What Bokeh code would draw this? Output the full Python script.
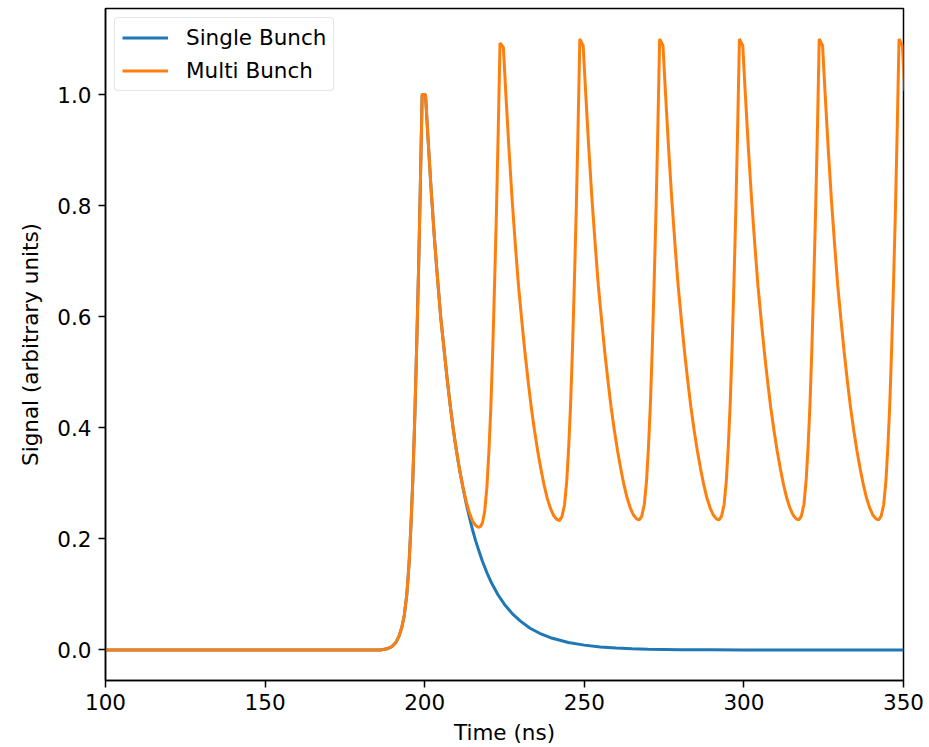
from bokeh.plotting import figure
from bokeh.models import Range1d, FixedTicker, PrintfTickFormatter
from bokeh.embed import file_html
from bokeh.resources import INLINE

# ---------------- data ----------------
x_ticks = [100, 150, 200, 250, 300, 350]
y_ticks = [0.0, 0.2, 0.4, 0.6, 0.8, 1.0]

single_label = "Single Bunch"
multi_label = "Multi Bunch"

single_t = [100, 150, 180, 186.2, 188.2, 189.7, 190.9, 191.9, 192.8, 193.6, 194.4,
            195.1, 195.7, 196.3, 196.9, 197.5, 198.1, 198.65, 199.2, 200.25,
            201, 202, 203, 204, 205, 206, 207, 208, 209, 210, 211, 212, 213, 214,
            215, 216, 217, 218,
            219.5, 221, 223, 225, 227.5, 230, 233, 236, 240, 245, 250, 255, 260,
            265, 270, 280, 290, 300, 350]
single_v = [0.0, 0.0, 0.0, 0.0, 0.002, 0.006, 0.013, 0.024, 0.040, 0.062, 0.100,
            0.155, 0.225, 0.310, 0.420, 0.550, 0.690, 0.840, 1.000, 1.000,
            0.925, 0.830, 0.745, 0.670, 0.600, 0.545, 0.490, 0.440, 0.395, 0.357,
            0.322, 0.292, 0.264, 0.239, 0.216, 0.196, 0.178, 0.161,
            0.139, 0.120, 0.099, 0.082, 0.065, 0.052, 0.039, 0.030, 0.021, 0.0135,
            0.0087, 0.0055, 0.0035, 0.0022, 0.0014, 0.0005, 0.0002, 0.0, 0.0]

multi_t = [
    100, 150, 180, 186.2, 188.2, 189.7, 190.9, 191.9, 192.8, 193.6, 194.4,
    195.1, 195.7, 196.3, 196.9, 197.5, 198.1, 198.65, 199.2, 200.25,
    201, 202, 203, 204, 205, 206, 207, 208, 209, 210, 211, 212, 213, 214, 215, 216,
    216.8, 217.5, 218.1, 218.8, 219.5, 220.1, 220.7, 221.3, 221.9, 222.5, 223.05,
    223.6, 224.65,
    225.4, 226.4, 227.4, 228.4, 229.4, 230.4, 231.4, 232.4, 233.4, 234.4, 235.4,
    236.4, 237.4, 238.4, 239.4, 240.4, 241.4, 242.2, 243.0, 243.8, 244.5, 245.1,
    245.7, 246.3, 246.9, 247.5, 248.05, 248.6, 249.65,
    250.4, 251.4, 252.4, 253.4, 254.4, 255.4, 256.4, 257.4, 258.4, 259.4, 260.4,
    261.4, 262.4, 263.4, 264.4, 265.4, 266.4, 267.2, 268.0, 268.8, 269.5, 270.1,
    270.7, 271.3, 271.9, 272.5, 273.05, 273.6, 274.65,
    275.4, 276.4, 277.4, 278.4, 279.4, 280.4, 281.4, 282.4, 283.4, 284.4, 285.4,
    286.4, 287.4, 288.4, 289.4, 290.4, 291.4, 292.2, 293.0, 293.8, 294.5, 295.1,
    295.7, 296.3, 296.9, 297.5, 298.05, 298.6, 299.65,
    300.4, 301.4, 302.4, 303.4, 304.4, 305.4, 306.4, 307.4, 308.4, 309.4, 310.4,
    311.4, 312.4, 313.4, 314.4, 315.4, 316.4, 317.2, 318.0, 318.8, 319.5, 320.1,
    320.7, 321.3, 321.9, 322.5, 323.05, 323.6, 324.65,
    325.4, 326.4, 327.4, 328.4, 329.4, 330.4, 331.4, 332.4, 333.4, 334.4, 335.4,
    336.4, 337.4, 338.4, 339.4, 340.4, 341.4, 342.2, 343.0, 343.8, 344.5, 345.1,
    345.7, 346.3, 346.9, 347.5, 348.05, 348.6, 349.65,
    350.4,
]
multi_v = [
    0.0, 0.0, 0.0, 0.0, 0.002, 0.006, 0.013, 0.024, 0.040, 0.062, 0.100,
    0.155, 0.225, 0.310, 0.420, 0.550, 0.690, 0.840, 1.000, 1.000,
    0.925, 0.830, 0.745, 0.670, 0.600, 0.545, 0.490, 0.440, 0.395, 0.357, 0.322,
    0.293, 0.267, 0.247, 0.232, 0.224,
    0.221, 0.222, 0.229, 0.250, 0.294, 0.356, 0.434, 0.537, 0.661, 0.794, 0.939,
    1.093, 1.085,
    1.003, 0.902, 0.810, 0.729, 0.655, 0.594, 0.536, 0.484, 0.436, 0.395, 0.358,
    0.326, 0.297, 0.273, 0.255, 0.242, 0.235, 0.233, 0.240, 0.261, 0.304, 0.364,
    0.441, 0.543, 0.664, 0.797, 0.941, 1.100, 1.088,
    1.006, 0.904, 0.812, 0.731, 0.656, 0.595, 0.537, 0.485, 0.437, 0.396, 0.359,
    0.327, 0.298, 0.274, 0.256, 0.243, 0.236, 0.234, 0.241, 0.262, 0.305, 0.365,
    0.442, 0.544, 0.665, 0.798, 0.942, 1.100, 1.088,
    1.006, 0.904, 0.812, 0.731, 0.656, 0.595, 0.537, 0.485, 0.437, 0.396, 0.359,
    0.327, 0.298, 0.274, 0.256, 0.243, 0.236, 0.234, 0.241, 0.262, 0.305, 0.365,
    0.442, 0.544, 0.665, 0.798, 0.942, 1.100, 1.088,
    1.006, 0.904, 0.812, 0.731, 0.656, 0.595, 0.537, 0.485, 0.437, 0.396, 0.359,
    0.327, 0.298, 0.274, 0.256, 0.243, 0.236, 0.234, 0.241, 0.262, 0.305, 0.365,
    0.442, 0.544, 0.665, 0.798, 0.942, 1.100, 1.088,
    1.006, 0.904, 0.812, 0.731, 0.656, 0.595, 0.537, 0.485, 0.437, 0.396, 0.359,
    0.327, 0.298, 0.274, 0.256, 0.243, 0.236, 0.234, 0.241, 0.262, 0.305, 0.365,
    0.442, 0.544, 0.665, 0.798, 0.942, 1.100, 1.088,
    1.006,
]

# ---------------- figure ----------------
FONT = "DejaVu Sans"
FS = "21.5px"

p = figure(width=929, height=747, output_backend="svg", toolbar_location=None,
           x_range=Range1d(100, 350), y_range=Range1d(-0.055, 1.155),
           min_border_left=105, min_border_right=26, min_border_top=8,
           min_border_bottom=66)

p.background_fill_color = "white"
p.border_fill_color = "white"
p.grid.visible = False
p.outline_line_color = "black"
p.outline_line_width = 1.5
p.outline_line_alpha = 1.0

p.line(single_t, single_v, line_color="#1f77b4", line_width=3, legend_label=single_label)
p.line(multi_t, multi_v, line_color="#ff7f0e", line_width=3, legend_label=multi_label)

p.xaxis.ticker = FixedTicker(ticks=x_ticks)
p.xaxis.formatter = PrintfTickFormatter(format="%d")
p.yaxis.ticker = FixedTicker(ticks=y_ticks)
p.yaxis.formatter = PrintfTickFormatter(format="%.1f")

p.xaxis.axis_label = "Time (ns)"
p.yaxis.axis_label = "Signal (arbitrary units)"

for ax in (p.xaxis, p.yaxis):
    ax.axis_line_color = "black"
    ax.axis_line_width = 1.5
    ax.major_tick_line_color = "black"
    ax.major_tick_line_width = 1.5
    ax.major_tick_out = 7
    ax.major_tick_in = 0
    ax.minor_tick_line_color = None
    ax.major_label_text_font = FONT
    ax.major_label_text_font_size = FS
    ax.major_label_text_color = "black"
    ax.axis_label_text_font = FONT
    ax.axis_label_text_font_size = FS
    ax.axis_label_text_font_style = "normal"
    ax.axis_label_text_color = "black"

p.xaxis.major_label_standoff = 6
p.xaxis.axis_label_standoff = 7
p.yaxis.major_label_standoff = 7
p.yaxis.axis_label_standoff = 11

lg = p.legend[0]
lg.location = "top_left"
lg.margin = 9
lg.padding = 7
lg.spacing = 8
lg.glyph_width = 46
lg.glyph_height = 21
lg.label_height = 21
lg.label_standoff = 18
lg.label_text_font = FONT
lg.label_text_font_size = FS
lg.label_text_color = "black"
lg.border_line_color = "#cccccc"
lg.border_line_width = 1
lg.background_fill_alpha = 0.8
if "border_radius" in lg.properties():
    lg.border_radius = 4

open("out.html", "w").write(file_html(p, INLINE))
